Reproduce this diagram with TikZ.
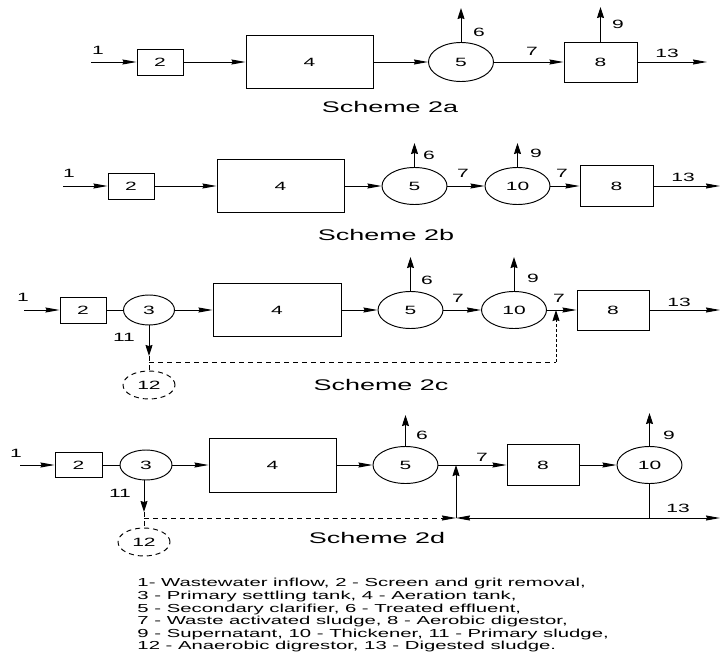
\documentclass[tikz,border=0pt]{standalone}
\usepackage{fontspec}
\setmainfont{Liberation Sans}[FakeStretch=1.75]
\usetikzlibrary{arrows.meta,shapes.geometric}

\tikzset{
  box/.style={draw, rectangle, inner sep=0pt, font=\fontsize{12}{12}\selectfont},
  tank/.style={draw, ellipse, inner sep=0pt, minimum width=65pt, minimum height=37pt, font=\fontsize{12}{12}\selectfont},
  settler/.style={tank, minimum width=51pt, minimum height=30pt},
  digester/.style={settler, sludgeline, minimum width=52pt, minimum height=28pt},
  sludgeline/.style={dash pattern=on 5pt off 4pt},
  num/.style={inner sep=0pt, font=\fontsize{12}{12}\selectfont},
  caption/.style={inner sep=0pt, font=\fontsize{15.4}{16}\selectfont},
  hto/.style={-{Stealth[length=14pt,width=5pt,inset=1pt]}},
  vto/.style={-{Stealth[length=11pt,width=7pt,inset=1pt]}},
}

\begin{document}
\begin{tikzpicture}[x=1pt,y=-1pt,line width=0.95pt]
    \useasboundingbox (0,0) rectangle (723,661);
    % Scheme 2a
    \coordinate (in2a) at (91,62);
    \node[box, minimum width=46pt, minimum height=26pt] (s2a) at (160,62) {2};
    \node[box, minimum width=127pt, minimum height=53pt] (at2a) at (309.5,62) {4};
    \node[tank, minimum height=39pt] (sc2a) at (461,62) {5};
    \node[box, minimum width=73pt, minimum height=40pt] (ad2a) at (600.5,62) {8};
    \coordinate (ef2a) at (461,8);
    \coordinate (su2a) at (600.5,7);
    \coordinate (out2a) at (707,62);
    \draw[hto] (in2a) -- (s2a);
    \draw[hto] (s2a) -- (at2a);
    \draw[hto] (at2a) -- (sc2a);
    \draw[hto] (sc2a) -- (ad2a);
    \draw[hto] (ad2a) -- (out2a);
    \draw[vto] (sc2a) -- (ef2a);
    \draw[vto] (ad2a) -- (su2a);
    \node[num] (n1a) at (98,50) {1}; \node[num] (n6a) at (479,32) {6};
    \node[num] (n7a) at (532,51) {7}; \node[num] (n9a) at (618,24) {9};
    \node[num] (n13a) at (667,53) {13};
    \node[caption] (cap2a) at (390,107) {Scheme 2a};
    % Scheme 2b
    \coordinate (in2b) at (63,186);
    \node[box, minimum width=46pt, minimum height=26pt] (s2b) at (131,186) {2};
    \node[box, minimum width=127pt, minimum height=53pt] (at2b) at (280.5,186) {4};
    \node[tank] (sc2b) at (414.5,186) {5};
    \node[tank] (th2b) at (517.5,186) {10};
    \node[box, minimum width=73pt, minimum height=41pt] (ad2b) at (616.5,186) {8};
    \coordinate (ef2b) at (414.5,143);
    \coordinate (su2b) at (517.5,143);
    \coordinate (out2b) at (720,186);
    \draw[hto] (in2b) -- (s2b);
    \draw[hto] (s2b) -- (at2b);
    \draw[hto] (at2b) -- (sc2b);
    \draw[hto] (sc2b) -- (th2b);
    \draw[hto] (th2b) -- (ad2b);
    \draw[hto] (ad2b) -- (out2b);
    \draw[vto] (sc2b) -- (ef2b);
    \draw[vto] (th2b) -- (su2b);
    \node[num] (n1b) at (69,173) {1}; \node[num] (n6b) at (429,155) {6};
    \node[num] (n7b) at (463,173) {7}; \node[num] (n9b) at (536,153) {9};
    \node[num] (n7bb) at (562,173) {7}; \node[num] (n13b) at (683,177) {13};
    \node[caption] (cap2b) at (386,235) {Scheme 2b};
    % Scheme 2c
    \coordinate (in2c) at (24,310);
    \node[box, minimum width=46pt, minimum height=26pt] (s2c) at (83,310) {2};
    \node[settler] (ps2c) at (149,310) {3};
    \node[box, minimum width=128pt, minimum height=53pt] (at2c) at (277,310) {4};
    \node[tank] (sc2c) at (410.5,310) {5};
    \node[tank] (th2c) at (514,310) {10};
    \node[box, minimum width=72pt, minimum height=40pt] (ad2c) at (613,310) {8};
    \node[digester] (dg2c) at (149,385) {12};
    \coordinate (ef2c) at (410.5,257);
    \coordinate (su2c) at (514,257);
    \coordinate (out2c) at (720,310);
    \coordinate (sl2c) at (149,356);
    \coordinate (d2c) at (149,362);
    \coordinate (e2c) at (556,362);
    \coordinate (j2c) at (556,310);
    \draw[hto] (in2c) -- (s2c);
    \draw (s2c) -- (ps2c);
    \draw[hto] (ps2c) -- (at2c);
    \draw[hto] (at2c) -- (sc2c);
    \draw[hto] (sc2c) -- (th2c);
    \draw[hto] (th2c) -- (ad2c);
    \draw[hto] (ad2c) -- (out2c);
    \draw[vto] (sc2c) -- (ef2c);
    \draw[vto] (th2c) -- (su2c);
    \draw[vto] (ps2c) -- (sl2c);
    \draw[sludgeline] (sl2c) -- (dg2c);
    \draw[sludgeline] (d2c) -- (e2c);
    \draw[densely dashed, vto] (e2c) -- (j2c);
    \node[num] (n1c) at (23,297) {1}; \node[num] (n11c) at (124,337) {11};
    \node[num] (n6c) at (427,280) {6}; \node[num] (n7c) at (458,298) {7};
    \node[num] (n9c) at (533,278) {9}; \node[num] (n7cc) at (559,298) {7};
    \node[num] (n13c) at (679,302) {13};
    \node[caption] (cap2c) at (381,385) {Scheme 2c};
    % Scheme 2d
    \coordinate (in2d) at (20,465);
    \node[box, minimum width=47pt, minimum height=25pt] (s2d) at (78.5,465) {2};
    \node[settler, minimum width=52pt] (ps2d) at (146,465) {3};
    \node[box, minimum width=127pt, minimum height=54pt] (at2d) at (272.5,465) {4};
    \node[tank] (sc2d) at (405.5,465) {5};
    \node[box, minimum width=72pt, minimum height=41pt] (ad2d) at (543,465) {8};
    \node[tank] (th2d) at (649.5,465) {10};
    \node[digester] (dg2d) at (144,542) {12};
    \coordinate (ef2d) at (405.5,415);
    \coordinate (su2d) at (649.5,413);
    \coordinate (sl2d) at (144,512);
    \coordinate (d2d) at (144,518);
    \coordinate (j2d) at (456,518);
    \coordinate (m2d) at (456,465);
    \coordinate (b2d) at (649.5,518);
    \coordinate (out2d) at (720,518);
    \draw[hto] (in2d) -- (s2d);
    \draw (s2d) -- (ps2d);
    \draw[hto] (ps2d) -- (at2d);
    \draw[hto] (at2d) -- (sc2d);
    \draw[hto] (sc2d) -- (ad2d);
    \draw[hto] (ad2d) -- (th2d);
    \draw[vto] (sc2d) -- (ef2d);
    \draw[vto] (th2d) -- (su2d);
    \draw[vto] (ps2d.south -| sl2d) -- (sl2d);
    \draw[sludgeline] (sl2d) -- (dg2d);
    \draw[sludgeline, hto] (d2d) -- (j2d);
    \draw[hto] (b2d) -- (j2d);
    \draw[vto] (j2d) -- (m2d);
    \draw (th2d) -- (b2d);
    \draw[hto] (b2d) -- (out2d);
    \node[num] (n1d) at (16,453) {1}; \node[num] (n11d) at (120,493) {11};
    \node[num] (n6d) at (422,435) {6}; \node[num] (n7d) at (482,457) {7};
    \node[num] (n9d) at (669,435) {9}; \node[num] (n13d) at (678,508) {13};
    \node[caption] (cap2d) at (377,538) {Scheme 2d};
    % legend
    \node[anchor=north west, inner sep=0pt, align=left, font=\fontsize{11.6}{12.6}\selectfont] (key) at (137,578)
      {1- Wastewater inflow, 2 - Screen and grit removal,\\
       3 - Primary settling tank, 4 - Aeration tank,\\
       5 - Secondary clarifier, 6 - Treated effluent,\\
       7 - Waste activated sludge, 8 - Aerobic digestor,\\
       9 - Supernatant, 10 - Thickener, 11 - Primary sludge,\\
       12 - Anaerobic digrestor, 13 - Digested sludge.};
\end{tikzpicture}
\end{document}
